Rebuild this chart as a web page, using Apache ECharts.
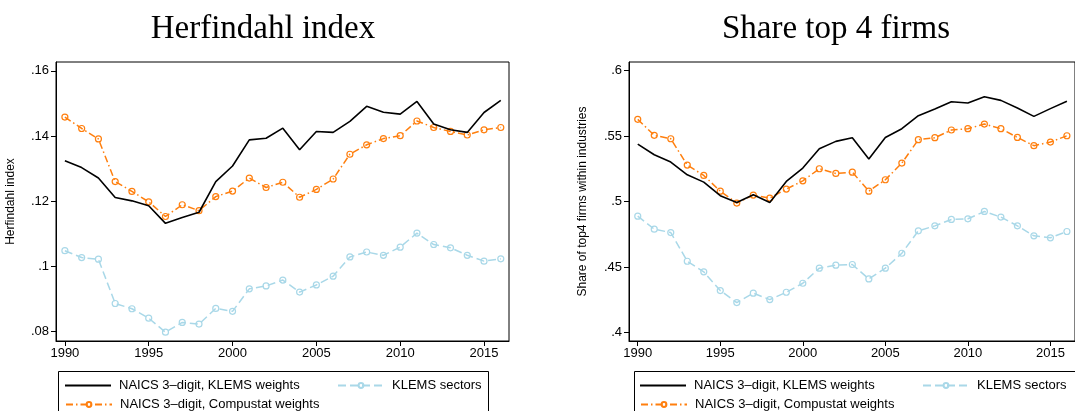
<!DOCTYPE html>
<html>
<head>
<meta charset="utf-8">
<script src="https://cdn.jsdelivr.net/npm/echarts@6/dist/echarts.min.js"></script>
<style>html,body{margin:0;padding:0;background:#fff}#c{width:1075px;height:411px}</style>
</head>
<body>
<div id="c"></div>
<script>
const years = [1990,1991,1992,1993,1994,1995,1996,1997,1998,1999,2000,2001,2002,2003,2004,2005,2006,2007,2008,2009,2010,2011,2012,2013,2014,2015,2016];
const xTicks = [1990,1995,2000,2005,2010,2015];

// Herfindahl index
const hhiKlemsW = [0.1324,0.1303,0.1271,0.1211,0.1201,0.1186,0.1132,0.1150,0.1166,0.1260,0.1308,0.1388,0.1393,0.1424,0.1358,0.1414,0.1411,0.1445,0.1491,0.1473,0.1467,0.1506,0.1437,0.1419,0.1411,0.1472,0.1509];
const hhiCompW  = [0.1458,0.1423,0.1391,0.1260,0.1230,0.1198,0.1153,0.1189,0.1171,0.1214,0.1231,0.1271,0.1242,0.1258,0.1212,0.1236,0.1268,0.1344,0.1373,0.1392,0.1401,0.1446,0.1426,0.1414,0.1403,0.1419,0.1426];
const hhiSectors= [0.1048,0.1027,0.1022,0.0886,0.0870,0.0841,0.0798,0.0828,0.0823,0.0871,0.0862,0.0931,0.0940,0.0958,0.0921,0.0943,0.0970,0.1029,0.1044,0.1034,0.1059,0.1102,0.1067,0.1057,0.1034,0.1016,0.1023];
const hhiTicks = [0.08,0.10,0.12,0.14,0.16];

// Share top 4 firms
const top4KlemsW = [0.5439,0.5358,0.5302,0.5205,0.5149,0.5045,0.4994,0.5052,0.4994,0.5154,0.5256,0.5404,0.5460,0.5488,0.5325,0.5490,0.5557,0.5656,0.5707,0.5763,0.5753,0.5801,0.5773,0.5715,0.5651,0.5710,0.5766];
const top4CompW  = [0.5628,0.5506,0.5480,0.5279,0.5200,0.5080,0.4989,0.5050,0.5027,0.5096,0.5159,0.5251,0.5215,0.5225,0.5080,0.5167,0.5294,0.5473,0.5488,0.5547,0.5557,0.5592,0.5557,0.5490,0.5427,0.5455,0.5503];
const top4Sectors= [0.4889,0.4790,0.4764,0.4545,0.4464,0.4321,0.4229,0.4301,0.4252,0.4308,0.4377,0.4492,0.4515,0.4520,0.4410,0.4492,0.4606,0.4777,0.4815,0.4864,0.4869,0.4925,0.4882,0.4815,0.4739,0.4724,0.4772];
const top4Ticks = [0.4,0.45,0.5,0.55,0.6];

const titles = ['Herfindahl index','Share top 4 firms'];
const yNames = ['Herfindahl index','Share of top4 firms within industries'];
const names = ['NAICS 3–digit, KLEMS weights','NAICS 3–digit, Compustat weights','KLEMS sectors'];

const BLACK = '#000000', ORANGE = '#ff7f0e', LBLUE = '#a9d8e8';
const FONT = 'Liberation Sans, Arial, sans-serif';
const SERIF = 'Liberation Serif, Times New Roman, serif';

const zip = a => years.map((y,i)=>[y,a[i]]);
const fmt = v => String(+v.toFixed(2)).replace(/^0/,'');

function xAx(gi){
  return {gridIndex:gi,type:'value',min:1989.47,max:2016.49,
    axisLine:{show:true,lineStyle:{color:'#000',width:1}},
    axisTick:{show:true,length:5,inside:false,customValues:xTicks,lineStyle:{color:'#000'}},
    axisLabel:{customValues:xTicks,margin:6,color:'#000',fontFamily:FONT,fontSize:13,formatter:v=>String(v)},
    splitLine:{show:false}};
}
function yAx(gi,min,max,ticks,name,gap){
  return {gridIndex:gi,type:'value',min:min,max:max,name:name,nameLocation:'middle',nameGap:gap,nameRotate:90,
    nameTextStyle:{color:'#000',fontFamily:FONT,fontSize:12},
    axisLine:{show:true,lineStyle:{color:'#000',width:1}},
    axisTick:{show:true,length:5,inside:false,customValues:ticks,lineStyle:{color:'#000'}},
    axisLabel:{customValues:ticks,margin:7,color:'#000',fontFamily:FONT,fontSize:13,formatter:fmt},
    splitLine:{show:false}};
}
function ser(gi,idx,data){
  const base = {type:'line',xAxisIndex:gi,yAxisIndex:gi,data:zip(data),animation:false,z:3-idx};
  if(idx===0) return Object.assign(base,{name:names[0],symbol:'none',lineStyle:{color:BLACK,width:1.6,type:'solid'},itemStyle:{color:BLACK}});
  if(idx===1) return Object.assign(base,{name:names[1],symbol:'circle',symbolSize:6,lineStyle:{color:ORANGE,width:1.5,type:[7,3,1.5,3]},itemStyle:{color:'rgba(255,255,255,0)',borderColor:ORANGE,borderWidth:1.2}});
  return Object.assign(base,{name:names[2],symbol:'circle',symbolSize:6,lineStyle:{color:LBLUE,width:1.5,type:[8,4]},itemStyle:{color:'rgba(255,255,255,0)',borderColor:LBLUE,borderWidth:1.2}});
}
function leg(idx,left,top){
  const o = {data:[names[idx]],left:left,top:top,padding:0,itemWidth:46,itemHeight:6,itemGap:0,
    textStyle:{color:'#000',fontFamily:FONT,fontSize:13,padding:[0,0,0,3]},selectedMode:false};
  if(idx===0){ o.icon='rect'; o.itemHeight=2; o.data=[{name:names[0],icon:'rect'}]; o.itemStyle={color:BLACK}; }
  return o;
}

const chart = echarts.init(document.getElementById('c'),null,{renderer:'canvas'});
chart.setOption({
  animation:false,
  backgroundColor:'#fff',
  title:[
    {text:titles[0],left:258,top:8,textAlign:'center',textStyle:{fontFamily:SERIF,fontWeight:'normal',fontSize:33,color:'#000'}},
    {text:titles[1],left:831,top:8,textAlign:'center',textStyle:{fontFamily:SERIF,fontWeight:'normal',fontSize:33,color:'#000'}}
  ],
  grid:[
    {left:56,top:62,width:453,height:279,show:true,borderColor:'#000',borderWidth:1,backgroundColor:'#fff'},
    {left:629,top:62,width:453,height:279,show:true,borderColor:'#000',borderWidth:1,backgroundColor:'#fff'}
  ],
  xAxis:[xAx(0),xAx(1)],
  yAxis:[yAx(0,0.0771,0.1627,hhiTicks,yNames[0],39),yAx(1,0.3936,0.6066,top4Ticks,yNames[1],40)],
  legend:[
    leg(0,65,379),leg(1,65,398),leg(2,337,379),
    leg(0,640,379),leg(1,640,398),leg(2,922,379)
  ],
  graphic:[
    {type:'rect',shape:{x:58.5,y:371.5,width:430,height:60},style:{fill:null,stroke:'#000',lineWidth:1}},
    {type:'rect',shape:{x:634.5,y:371.5,width:460,height:60},style:{fill:null,stroke:'#000',lineWidth:1}}
  ],
  series:[
    ser(0,0,hhiKlemsW),ser(0,1,hhiCompW),ser(0,2,hhiSectors),
    ser(1,0,top4KlemsW),ser(1,1,top4CompW),ser(1,2,top4Sectors)
  ]
});
</script>
</body>
</html>
